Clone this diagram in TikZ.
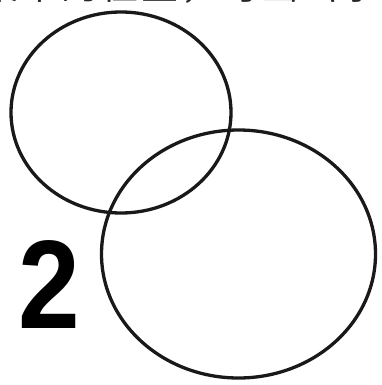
\documentclass[tikz,border=0pt]{standalone}
\usepackage{fontspec}
\setmainfont{Liberation Sans}
\newfontfamily\cjk{Noto Sans CJK SC}
\begin{document}
\begin{tikzpicture}[x=1pt,y=-1pt]
\tikzset{
  ring/.style={draw=black!90, line width=3.3pt},
  hanzi/.style={inner sep=0pt, anchor=base, font=\cjk\fontsize{37}{40}\selectfont, text=black!85},
  digit/.style={inner sep=0pt, anchor=base, font=\bfseries\fontsize{126}{130}\selectfont}
}
\useasboundingbox (0,0) rectangle (381,385);
\clip (0,0) rectangle (381,385);
\fill[white] (0,0) rectangle (381,385);
\node[hanzi] (c0) at (0,0) {集};
\node[hanzi] (c1) at (40,0) {中};
\node[hanzi] (c2) at (80,0) {的};
\node[hanzi] (c3) at (120,0) {位};
\node[hanzi] (c4) at (160,0) {置};
\node[hanzi] (c5) at (200,0) {，};
\node[hanzi] (c6) at (240,0) {可};
\node[hanzi] (c7) at (280,0) {画};
\node[hanzi] (c8) at (320,0) {出};
\node[hanzi] (c9) at (360,0) {示};
\draw[ring] (121,112.5) ellipse [x radius=110, y radius=100.5];
\draw[ring] (238.5,254) ellipse [x radius=137, y radius=124];
\node[digit] (two) at (49.5,328) {\scalebox{0.88}[1]{2}};
\end{tikzpicture}
\end{document}
